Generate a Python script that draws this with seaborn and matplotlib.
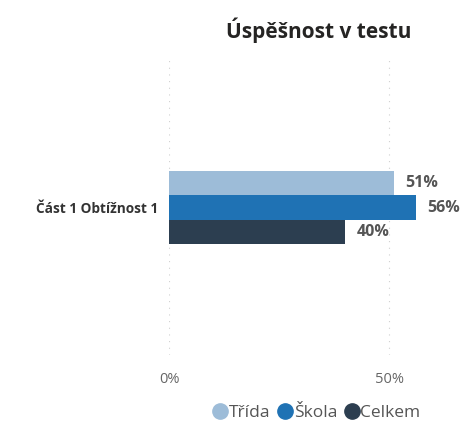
import matplotlib
matplotlib.use("Agg")
import matplotlib.pyplot as plt
import seaborn as sns
import pandas as pd
from matplotlib.lines import Line2D

# data
categories = ["Část 1 Obtížnost 1"]
series = ["Třída", "Škola", "Celkem"]
values = [51, 56, 40]
colors = ["#9dbcd8", "#1f72b4", "#2c3e50"]

df = pd.DataFrame({"cat": categories * len(series), "series": series, "value": values})

sns.set_style("white")
plt.rcParams["font.family"] = ["Open Sans", "DejaVu Sans"]

fig = plt.figure(figsize=(4.63, 4.23), dpi=100)
ax = fig.add_axes([169 / 463, 68 / 423, 269 / 463, 295 / 423])

sns.barplot(data=df, x="value", y="cat", hue="series", hue_order=series,
            palette=colors, width=0.245, orient="h", ax=ax, legend=False,
            edgecolor="none", saturation=1)

ax.set_xlim(0, 61)
ax.set_ylim(0.5, -0.5)
ax.set_xticks([0, 50])
ax.set_xticklabels(["0%", "50%"], color="#666666", fontsize=10.5)
ax.tick_params(axis="x", length=0, pad=12)
ax.tick_params(axis="y", length=0, pad=8)
ax.set_yticks([0])
ax.set_yticklabels(categories, fontsize=9.8, fontweight="bold", color="#333333")
ax.set_xlabel("")
ax.set_ylabel("")
for x in [0, 50]:
    ax.axvline(x, color="#d0d0d0", linestyle=(0, (1, 5)), linewidth=0.8, zorder=0)
sns.despine(ax=ax, left=True, bottom=True)

for cont in ax.containers:
    ax.bar_label(cont, labels=[f"{v:.0f}%" for v in cont.datavalues], padding=8,
                 fontsize=11.5, fontweight="bold", color="#555555")

fig.text(319 / 463, 1 - 30 / 423, "Úspěšnost v testu", ha="center", va="center",
         fontsize=15, fontweight="bold", color="#252423")

handles = [Line2D([], [], marker="o", linestyle="", markersize=11, color=c) for c in colors]
fig.legend(handles, series, loc="center", bbox_to_anchor=(316 / 463, 1 - 413 / 423),
           ncol=3, frameon=False, fontsize=12.5, handletextpad=0.0, columnspacing=0.35,
           labelcolor="#555555", handlelength=1.0)

fig.savefig("out.png", dpi=100)
